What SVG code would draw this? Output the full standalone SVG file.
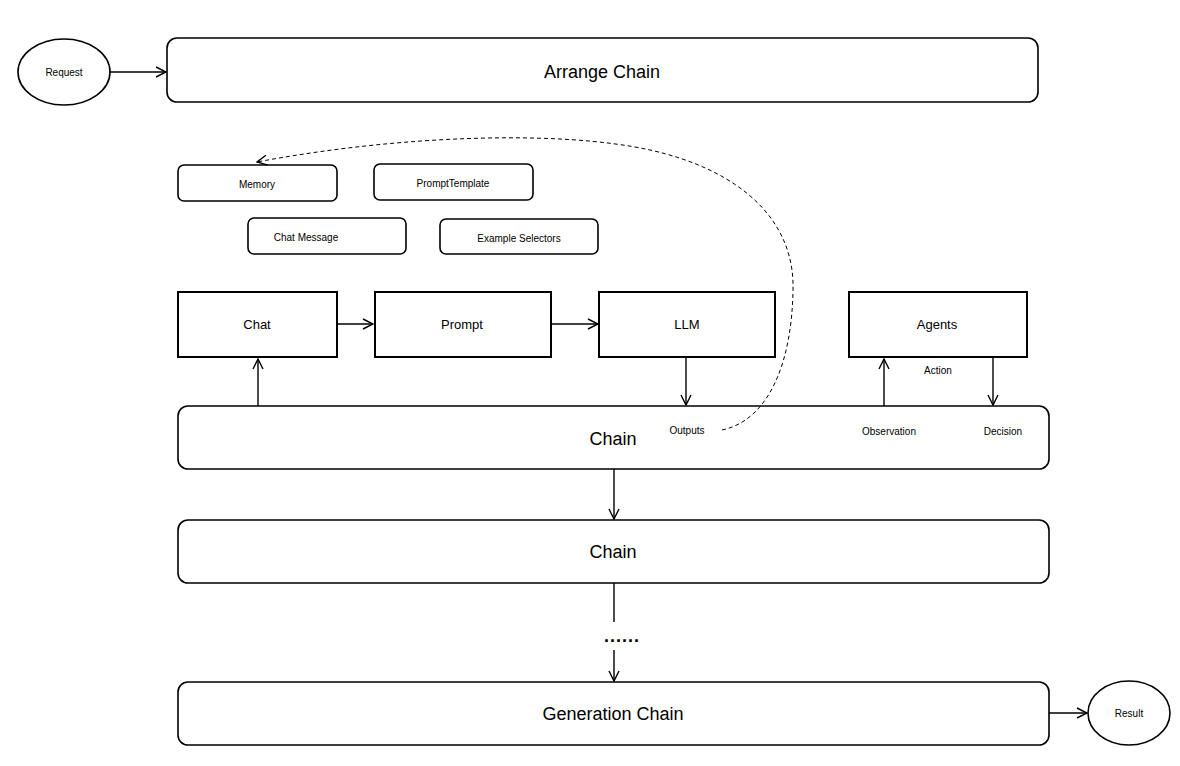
<svg xmlns="http://www.w3.org/2000/svg" width="1180" height="766" viewBox="0 0 1180 766">
<style>
text{font-family:"Liberation Sans",Arial,Helvetica,sans-serif;fill:#000;text-anchor:middle;dominant-baseline:central}
.big{font-size:18px}
.mid{font-size:13px}
.sm{font-size:10px}
.rr{fill:#fff;stroke:#000;stroke-width:1.6}
.sq{fill:#fff;stroke:#000;stroke-width:2}
.ln{fill:none;stroke:#000;stroke-width:1.4}
.dash{fill:none;stroke:#000;stroke-width:1;stroke-dasharray:4 3}
</style>
<defs>
<marker id="ah" viewBox="0 0 12 12" refX="11" refY="6" markerWidth="12" markerHeight="12" markerUnits="userSpaceOnUse" orient="auto">
<path d="M1,1 L11,6 L1,11" fill="none" stroke="#000" stroke-width="1.4"/>
</marker>
</defs>
<rect width="1180" height="766" fill="#fff"/>
<g id="request"><ellipse cx="64" cy="72" rx="46" ry="33" fill="#fff" stroke="#000" stroke-width="1.6"/><text class="sm" x="64" y="72">Request</text></g>
<g id="arrange-chain"><rect class="rr" x="167" y="38" width="871" height="64" rx="10"/><text class="big" x="602" y="72">Arrange Chain</text></g>
<g id="memory"><rect class="rr" x="178" y="165" width="159" height="36" rx="6"/><text class="sm" x="257" y="184">Memory</text></g>
<g id="prompt-template"><rect class="rr" x="374" y="164" width="159" height="36" rx="6"/><text class="sm" x="453" y="183">PromptTemplate</text></g>
<g id="chat-message"><rect class="rr" x="248" y="218" width="158" height="36" rx="6"/><text class="sm" x="306" y="237">Chat Message</text></g>
<g id="example-selectors"><rect class="rr" x="440" y="219" width="158" height="35" rx="6"/><text class="sm" x="519" y="238">Example Selectors</text></g>
<g id="chat"><rect class="sq" x="178" y="292" width="159" height="65"/><text class="mid" x="257" y="324">Chat</text></g>
<g id="prompt"><rect class="sq" x="375" y="292" width="176" height="65"/><text class="mid" x="462" y="324">Prompt</text></g>
<g id="llm"><rect class="sq" x="599" y="292" width="176" height="65"/><text class="mid" x="687" y="324">LLM</text></g>
<g id="agents"><rect class="sq" x="849" y="292" width="178" height="65"/><text class="mid" x="937" y="324">Agents</text></g>
<g id="chain1"><rect class="rr" x="178" y="406" width="871" height="63" rx="10"/><text class="big" x="613" y="439">Chain</text>
<text class="sm" x="687" y="430">Outputs</text><text class="sm" x="889" y="431">Observation</text><text class="sm" x="1003" y="431">Decision</text></g>
<g id="chain2"><rect class="rr" x="178" y="520" width="871" height="63" rx="10"/><text class="big" x="613" y="552">Chain</text></g>
<g id="generation-chain"><rect class="rr" x="178" y="682" width="871" height="63" rx="10"/><text class="big" x="613" y="714">Generation Chain</text></g>
<g id="result"><ellipse cx="1129" cy="713" rx="41" ry="32" fill="#fff" stroke="#000" stroke-width="1.6"/><text class="sm" x="1129" y="713">Result</text></g>
<g id="connectors">
<line class="ln" x1="110" y1="72" x2="166" y2="72" marker-end="url(#ah)"/>
<line class="ln" x1="258" y1="406" x2="258" y2="359" marker-end="url(#ah)"/>
<line class="ln" x1="337" y1="324" x2="373" y2="324" marker-end="url(#ah)"/>
<line class="ln" x1="551" y1="324" x2="598" y2="324" marker-end="url(#ah)"/>
<line class="ln" x1="686" y1="357" x2="686" y2="405" marker-end="url(#ah)"/>
<line class="ln" x1="884" y1="406" x2="884" y2="359" marker-end="url(#ah)"/>
<line class="ln" x1="993" y1="357" x2="993" y2="405" marker-end="url(#ah)"/>
<line class="ln" x1="614" y1="469" x2="614" y2="519" marker-end="url(#ah)"/>
<line class="ln" x1="614" y1="583" x2="614" y2="622"/>
<line class="ln" x1="614" y1="650" x2="614" y2="681" marker-end="url(#ah)"/>
<line class="ln" x1="1049" y1="713" x2="1087" y2="713" marker-end="url(#ah)"/>
<path class="dash" d="M722,430 C770,420 792,360 793,290 C795,220 740,170 650,150 C560,130 400,135 257,162" marker-end="url(#ah)"/>
<text class="sm" x="938" y="370">Action</text>
<text class="big" x="622" y="636" style="font-weight:bold;letter-spacing:1px">......</text>
</g>
</svg>
